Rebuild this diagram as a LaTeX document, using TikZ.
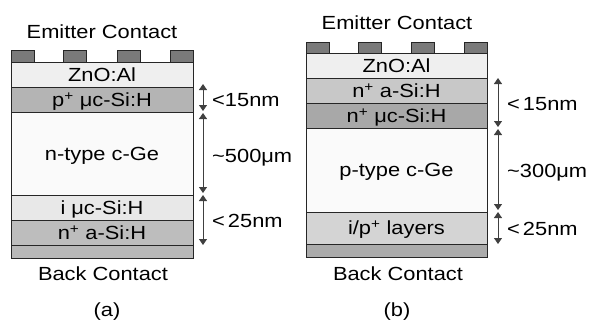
\documentclass[tikz,border=0pt]{standalone}
\usepackage{fontspec}
\setmainfont{Liberation Sans}[FakeStretch=1.15]
\usetikzlibrary{arrows.meta}
\definecolor{ctc}{HTML}{7A7A7A}
\definecolor{zno}{HTML}{EFEFEF}
\definecolor{pucA}{HTML}{B4B4B4}
\definecolor{bulk}{HTML}{FAFAFA}
\definecolor{iuc}{HTML}{E8E8E8}
\definecolor{naA}{HTML}{BDBDBD}
\definecolor{backA}{HTML}{B8B8B8}
\definecolor{naB}{HTML}{C8C8C8}
\definecolor{nucB}{HTML}{A8A8A8}
\definecolor{ipB}{HTML}{D4D4D4}
\definecolor{backB}{HTML}{ABABAB}
\begin{document}
\begin{tikzpicture}[x=1pt,y=-1pt,
  lay/.style={draw=black!85,line width=0.8pt},
  lab/.style={anchor=base,inner sep=0pt,font=\fontsize{19}{19}\selectfont},
  dimlab/.style={anchor=base west,inner sep=0pt,font=\fontsize{19}{19}\selectfont},
  dimarrow/.style={draw=black!75,line width=1pt,{Triangle[width=8pt,length=6pt]}-{Triangle[width=8pt,length=6pt]}}]
\useasboundingbox (0,0) rectangle (590,325);
% ---------------- panel (a)
\foreach \xa in {11,63,117,170}
  \draw[lay,fill=ctc] (\xa,50) rectangle (\xa+23,62);
\draw[lay,fill=zno] (11,62) rectangle (193,87);
\draw[lay,fill=pucA] (11,87) rectangle (193,112);
\draw[lay,fill=bulk] (11,112) rectangle (193,195);
\draw[lay,fill=iuc] (11,195) rectangle (193,220);
\draw[lay,fill=naA] (11,220) rectangle (193,245);
\draw[lay,fill=backA] (11,245) rectangle (193,258);
\node[lab] (aem) at (102,38.3) {Emitter Contact};
\node[lab] (azno) at (102,81.3) {ZnO:Al};
\node[lab] (ap) at (102,106.3) {p\textsuperscript{+} μc-Si:H};
\node[lab] (an) at (102,160.3) {n-type c-Ge};
\node[lab] (ai) at (102,214.3) {i μc-Si:H};
\node[lab] (ana) at (102,239.3) {n\textsuperscript{+} a-Si:H};
\node[lab] (aback) at (103,280.5) {Back Contact};
\node[lab] (acap) at (107,316.7) {(a)};
\coordinate (a1t) at (203,84);
\coordinate (a1b) at (203,111);
\coordinate (a2t) at (203,113);
\coordinate (a2b) at (203,193);
\coordinate (a3t) at (203,195);
\coordinate (a3b) at (203,245);
\draw[dimarrow] (a1t) -- (a1b);
\draw[dimarrow] (a2t) -- (a2b);
\draw[dimarrow] (a3t) -- (a3b);
\node[dimlab] (ad1) at (212,106.8) {<15nm};
\node[dimlab] (ad2) at (212,162) {\textasciitilde500μm};
\node[dimlab] (ad3) at (212,227) {<\hspace{3pt}25nm};
% ---------------- panel (b)
\foreach \xb in {306,358,411,464}
  \draw[lay,fill=ctc] (\xb,42) rectangle (\xb+23,53);
\draw[lay,fill=zno] (306,53) rectangle (487,78);
\draw[lay,fill=naB] (306,78) rectangle (487,103);
\draw[lay,fill=nucB] (306,103) rectangle (487,128);
\draw[lay,fill=bulk] (306,128) rectangle (487,212);
\draw[lay,fill=ipB] (306,212) rectangle (487,244);
\draw[lay,fill=backB] (306,244) rectangle (487,257);
\node[lab] (bem) at (397,29.3) {Emitter Contact};
\node[lab] (bzno) at (396.5,72.3) {ZnO:Al};
\node[lab] (bna) at (396.5,97.3) {n\textsuperscript{+} a-Si:H};
\node[lab] (bnu) at (396.5,122.3) {n\textsuperscript{+} μc-Si:H};
\node[lab] (bp) at (396.5,176.8) {p-type c-Ge};
\node[lab] (bip) at (396.5,234.8) {i/p\textsuperscript{+} layers};
\node[lab] (bback) at (398,280.5) {Back Contact};
\node[lab] (bcap) at (397,316.7) {(b)};
\coordinate (b1t) at (498,78);
\coordinate (b1b) at (498,127);
\coordinate (b2t) at (498,129);
\coordinate (b2b) at (498,210);
\coordinate (b3t) at (498,212);
\coordinate (b3b) at (498,244);
\draw[dimarrow] (b1t) -- (b1b);
\draw[dimarrow] (b2t) -- (b2b);
\draw[dimarrow] (b3t) -- (b3b);
\node[dimlab] (bd1) at (507,110) {<\hspace{3pt}15nm};
\node[dimlab] (bd2) at (507,177) {\textasciitilde300μm};
\node[dimlab] (bd3) at (507,235) {<\hspace{3pt}25nm};
\end{tikzpicture}
\end{document}
